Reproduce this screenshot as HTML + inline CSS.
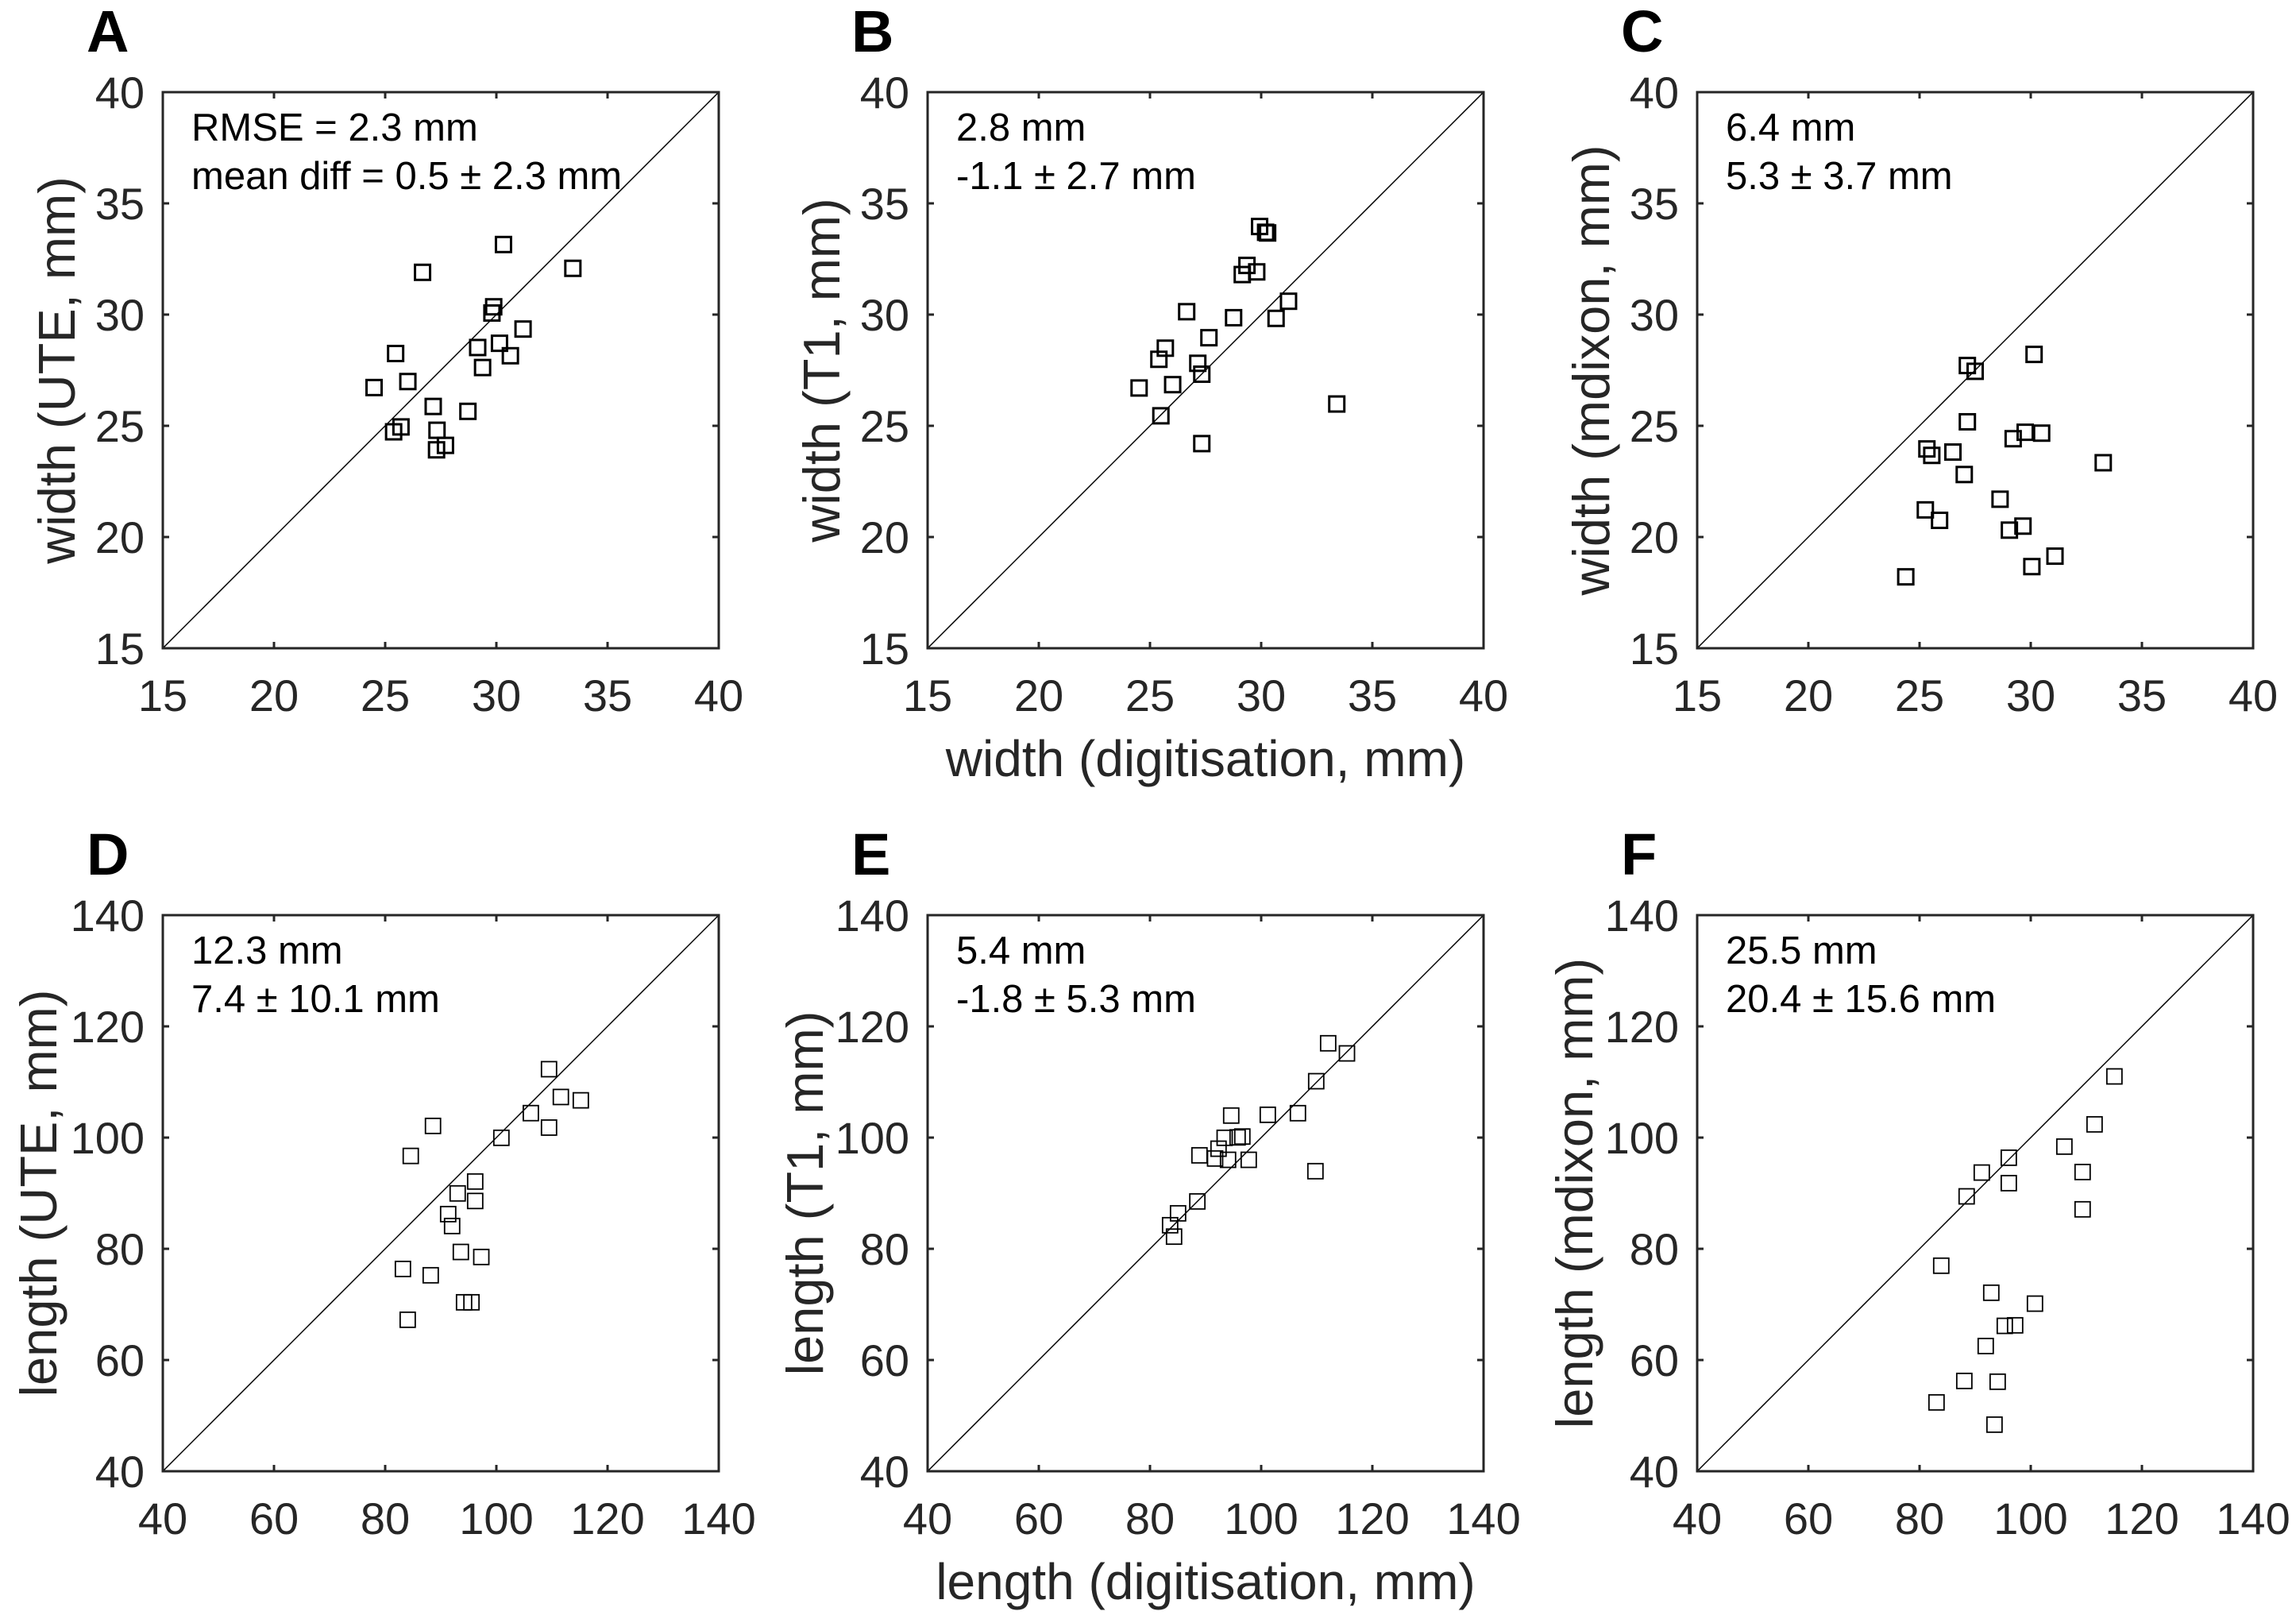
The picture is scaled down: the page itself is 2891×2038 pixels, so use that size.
<!DOCTYPE html>
<html><head><meta charset="utf-8"><style>
html,body{margin:0;padding:0;background:#fff;}
svg{display:block;font-family:"Liberation Sans",Arial,sans-serif;}
</style></head>
<body>
<svg id="fig" xmlns="http://www.w3.org/2000/svg" width="2891" height="2038" viewBox="0 0 2891 2038"></svg>
<script>
// Panel data (x = digitisation, y = method)
const widthTicks = [15, 20, 25, 30, 35, 40];
const lengthTicks = [40, 60, 80, 100, 120, 140];
const aX = [26.68,30.32,33.44,29.88,29.8,31.2,29.16,30.14,30.63,29.38,25.47,26.02,24.5,27.16,28.72,25.71,25.38,27.33,27.31,27.71];
const aY = [31.9,33.15,32.08,30.35,30.07,29.35,28.52,28.71,28.15,27.62,28.25,26.99,26.72,25.87,25.65,24.95,24.73,24.8,23.92,24.12];
const bX = [29.93,30.29,30.2,29.36,29.8,29.15,31.23,30.67,28.76,26.65,27.65,25.69,25.4,27.15,27.33,26.02,24.51,25.49,27.33,33.4];
const bY = [33.96,33.67,33.7,32.21,31.92,31.8,30.6,29.83,29.86,30.13,28.96,28.49,27.99,27.81,27.32,26.85,26.7,25.45,24.2,25.98];
const cX = [27.15,27.5,30.15,27.15,29.75,30.49,29.21,25.33,25.55,26.5,27.01,33.26,28.62,25.26,25.9,29.65,29.04,31.09,30.05,24.38];
const cY = [27.71,27.45,28.21,25.18,24.71,24.67,24.42,23.96,23.67,23.82,22.81,23.34,21.7,21.22,20.75,20.49,20.31,19.14,18.67,18.21];
const dX = [109.47,111.6,115.19,106.2,109.47,100.9,88.6,84.6,96.19,93.04,96.19,91.33,92.04,93.61,97.29,83.19,88.19,94.19,95.52,84.05];
const dY = [112.3,107.3,106.7,104.4,101.8,99.96,102.1,96.7,92.1,89.96,88.6,86.24,84.1,79.43,78.53,76.38,75.24,70.38,70.38,67.24];
const eX = [112.05,115.43,109.9,94.61,101.19,106.61,93.43,95.76,96.61,92.33,88.9,91.71,94.04,97.76,109.76,88.52,85.05,83.62,84.33];
const eY = [116.96,115.14,110.14,103.96,104.1,104.39,99.96,100.04,100.19,98.0,96.81,96.24,96.0,96.0,93.96,88.52,86.38,84.24,82.19];
const fX = [115.05,111.48,106.05,96.05,91.19,96.05,88.47,109.33,109.33,83.9,92.9,100.76,95.33,97.19,91.9,88.05,94.05,83.05,93.48];
const fY = [111.0,102.38,98.38,96.38,93.71,91.81,89.43,93.81,87.1,76.96,72.1,70.14,66.14,66.24,62.52,56.24,56.1,52.38,48.38];

const panels = [
  {id:'a', letter:'A', L:205, T:116, ticks:widthTicks, xs:aX, ys:aY, ylab:'width (UTE, mm)', yoff:111, xlab:null, ann:['RMSE = 2.3 mm','mean diff = 0.5 ± 2.3 mm'], sw:3},
  {id:'b', letter:'B', L:1168, T:116, ticks:widthTicks, xs:bX, ys:bY, ylab:'width (T1, mm)', yoff:111, xlab:'width (digitisation, mm)', ann:['2.8 mm','-1.1 ± 2.7 mm'], sw:3},
  {id:'c', letter:'C', L:2137, T:116, ticks:widthTicks, xs:cX, ys:cY, ylab:'width (mdixon, mm)', yoff:111, xlab:null, ann:['6.4 mm','5.3 ± 3.7 mm'], sw:3},
  {id:'d', letter:'D', L:205, T:1152, ticks:lengthTicks, xs:dX, ys:dY, ylab:'length (UTE, mm)', yoff:134, xlab:null, ann:['12.3 mm','7.4 ± 10.1 mm'], sw:1.8},
  {id:'e', letter:'E', L:1168, T:1152, ticks:lengthTicks, xs:eX, ys:eY, ylab:'length (T1, mm)', yoff:132, xlab:'length (digitisation, mm)', ann:['5.4 mm','-1.8 ± 5.3 mm'], sw:1.8},
  {id:'f', letter:'F', L:2137, T:1152, ticks:lengthTicks, xs:fX, ys:fY, ylab:'length (mdixon, mm)', yoff:132, xlab:null, ann:['25.5 mm','20.4 ± 15.6 mm'], sw:1.8}
];

const NS = 'http://www.w3.org/2000/svg';
const svg = document.getElementById('fig');
function mk(tag, attrs, parent){
  const el = document.createElementNS(NS, tag);
  for (const k in attrs) el.setAttribute(k, attrs[k]);
  parent.appendChild(el);
  return el;
}
const S = 700, TICK = 8, AX = '#262626';

panels.forEach(p => {
  const g = mk('g', {}, svg);
  
  
  const lo = p.ticks[0], hi = p.ticks[p.ticks.length-1];
  const sx = v => p.L + (v - lo) / (hi - lo) * S;
  const sy = v => p.T + S - (v - lo) / (hi - lo) * S;

  const lt = mk('text', {x:p.L-96, y:p.T-51, 'font-size':74, 'font-weight':'bold', fill:'#000'}, g);
  lt.textContent = p.letter;
  
  

  const dl = mk('line', {x1:sx(lo), y1:sy(lo), x2:sx(hi), y2:sy(hi), stroke:'#000', 'stroke-width':1.5}, g);
  
  

  const mg = mk('g', {fill:'none', stroke:'#000', 'stroke-width':p.sw}, g);
  
  
  const ms = 19;
  p.xs.forEach((xv, i) => {
    const r = mk('rect', {x:sx(xv)-ms/2, y:sy(p.ys[i])-ms/2, width:ms, height:ms}, mg);
    
    
  });

  p.ticks.forEach(t => {
    const X = sx(t), Y = sy(t);
    mk('line', {x1:X, y1:p.T+S, x2:X, y2:p.T+S-TICK, stroke:AX, 'stroke-width':3}, g);
    mk('line', {x1:X, y1:p.T, x2:X, y2:p.T+TICK, stroke:AX, 'stroke-width':3}, g);
    mk('line', {x1:p.L, y1:Y, x2:p.L+TICK, y2:Y, stroke:AX, 'stroke-width':3}, g);
    mk('line', {x1:p.L+S, y1:Y, x2:p.L+S-TICK, y2:Y, stroke:AX, 'stroke-width':3}, g);
    const xt = mk('text', {x:X, y:p.T+S+79, 'font-size':56, fill:AX, 'text-anchor':'middle'}, g);
    xt.textContent = t;
    
    
    const yt = mk('text', {x:p.L-23, y:Y+20, 'font-size':56, fill:AX, 'text-anchor':'end'}, g);
    yt.textContent = t;
    
    
  });

  const bx = mk('rect', {x:p.L, y:p.T, width:S, height:S, fill:'none', stroke:AX, 'stroke-width':3}, g);
  
  

  const yl = mk('text', {x:0, y:0, 'font-size':65, fill:AX, 'text-anchor':'middle',
    transform:'translate(' + (p.L-p.yoff) + ',' + (p.T+S/2) + ') rotate(-90)'}, g);
  yl.textContent = p.ylab;
  
  

  if (p.xlab) {
    const xl = mk('text', {x:p.L+S/2, y:p.T+S+161, 'font-size':64, fill:AX, 'text-anchor':'middle'}, g);
    xl.textContent = p.xlab;
    
    
  }

  p.ann.forEach((s, i) => {
    const a = mk('text', {x:p.L+36, y:p.T+61+i*61, 'font-size':49, fill:'#000'}, g);
    a.textContent = s;
    
    
  });
});
</script>
</body></html>
